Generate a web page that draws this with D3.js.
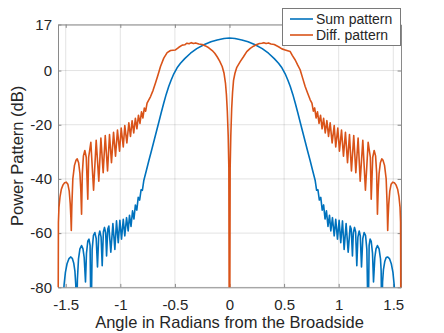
<!DOCTYPE html>
<html>
<head>
<meta charset="utf-8">
<script src="https://cdn.jsdelivr.net/npm/d3@7"></script>
<style>
body { margin: 0; background: #fff; }
text { font-family: "Liberation Sans", Arial, Helvetica, sans-serif; fill: #262626; }
</style>
</head>
<body>
<svg id="chart" width="444" height="333"></svg>
<script>
// values: [angle (rad), power (dB)]
var sumPattern = [
    [-1.5708, -110], [-1.525, -86], [-1.515, -79], [-1.503, -74.5], [-1.488, -71.3],
    [-1.47, -69.4], [-1.455, -68.8], [-1.44, -69.3], [-1.427, -71], [-1.416, -74],
    [-1.408, -79], [-1.401, -95], [-1.393, -77], [-1.383, -69.5], [-1.37, -65.8],
    [-1.355, -64.6], [-1.342, -65.8], [-1.331, -69], [-1.319, -78], [-1.31, -67.5],
    [-1.298, -63], [-1.287, -62.2], [-1.277, -64.5], [-1.268, -95], [-1.258, -66],
    [-1.246, -60.8], [-1.233, -59.8], [-1.221, -62], [-1.209, -72.5], [-1.198, -61],
    [-1.188, -59.2], [-1.176, -61.5], [-1.166, -72], [-1.155, -59.5], [-1.145, -57.9],
    [-1.134, -60], [-1.126, -68.4], [-1.115, -58.5], [-1.105, -57.4], [-1.087, -67],
    [-1.068, -56.5], [-1.05, -66], [-1.035, -55.5], [-1.019, -63.5], [-1.004, -55.3],
    [-0.989, -62.2], [-0.973, -54.9], [-0.959, -61], [-0.943, -54.3], [-0.928, -59.2],
    [-0.916, -53.4], [-0.902, -57.5], [-0.888, -51.8], [-0.875, -54.8], [-0.862, -49.6],
    [-0.849, -51.5], [-0.836, -46.8], [-0.823, -47.8], [-0.81, -44], [-0.798, -44.2],
    [-0.785, -40.6], [-0.762, -37], [-0.739, -33.3], [-0.716, -29.8], [-0.693, -26.2],
    [-0.67, -22.6], [-0.647, -19], [-0.625, -15.5], [-0.602, -12], [-0.58, -8.8],
    [-0.556, -5.8], [-0.535, -3.6], [-0.51, -1.2], [-0.48, 1], [-0.449, 2.7],
    [-0.41, 4.4], [-0.357, 6.4], [-0.3, 8.1], [-0.235, 9.5], [-0.17, 10.6],
    [-0.113, 11.3], [-0.05, 11.85], [0, 12],
    [0.05, 11.85], [0.113, 11.3], [0.17, 10.6], [0.235, 9.5], [0.3, 8.1],
    [0.357, 6.4], [0.41, 4.4], [0.449, 2.7], [0.48, 1], [0.51, -1.2],
    [0.535, -3.6], [0.556, -5.8], [0.58, -8.8], [0.602, -12], [0.625, -15.5],
    [0.647, -19], [0.67, -22.6], [0.693, -26.2], [0.716, -29.8], [0.739, -33.3],
    [0.762, -37], [0.785, -40.6], [0.798, -44.2], [0.81, -44], [0.823, -47.8],
    [0.836, -46.8], [0.849, -51.5], [0.862, -49.6], [0.875, -54.8], [0.888, -51.8],
    [0.902, -57.5], [0.916, -53.4], [0.928, -59.2], [0.943, -54.3], [0.959, -61],
    [0.973, -54.9], [0.989, -62.2], [1.004, -55.3], [1.019, -63.5], [1.035, -55.5],
    [1.05, -66], [1.068, -56.5], [1.087, -67], [1.105, -57.4], [1.115, -58.5],
    [1.126, -68.4], [1.134, -60], [1.145, -57.9], [1.155, -59.5], [1.166, -72],
    [1.176, -61.5], [1.188, -59.2], [1.198, -61], [1.209, -72.5], [1.221, -62],
    [1.233, -59.8], [1.246, -60.8], [1.258, -66], [1.27, -95], [1.279, -64.5],
    [1.288, -62.2], [1.298, -63], [1.31, -67.5], [1.319, -78], [1.331, -69],
    [1.342, -65.8], [1.355, -64.6], [1.37, -65.8], [1.383, -69.5], [1.389, -74],
    [1.395, -95], [1.402, -78], [1.41, -73.5], [1.422, -70.5], [1.435, -69],
    [1.448, -68.8], [1.465, -69.4], [1.482, -71.3], [1.497, -74.5], [1.508, -79],
    [1.518, -86], [1.5708, -110]
];

var diffPattern = [
    [-1.5708, -110], [-1.567, -56], [-1.562, -50.5], [-1.552, -46.5], [-1.54, -43.8],
    [-1.525, -42.2], [-1.51, -41.4], [-1.495, -41.2], [-1.48, -42], [-1.468, -44.5],
    [-1.459, -49], [-1.453, -54], [-1.449, -59], [-1.444, -50], [-1.435, -40],
    [-1.42, -35], [-1.405, -33], [-1.395, -32.6], [-1.382, -34], [-1.37, -38],
    [-1.362, -44], [-1.355, -53], [-1.348, -38], [-1.338, -31.5], [-1.325, -29.5],
    [-1.312, -32], [-1.298, -47.5], [-1.29, -32], [-1.27, -26.5], [-1.245, -44.2],
    [-1.221, -25.7], [-1.197, -40.8], [-1.178, -24.9], [-1.157, -37.7], [-1.138, -24],
    [-1.117, -37.1], [-1.099, -23.6], [-1.081, -34], [-1.062, -22.8], [-1.044, -31.6],
    [-1.026, -22], [-1.007, -29.8], [-0.992, -21.2], [-0.973, -28.2], [-0.959, -20.3],
    [-0.94, -26.7], [-0.922, -19.3], [-0.907, -24.3], [-0.892, -18.5], [-0.877, -23],
    [-0.862, -17.6], [-0.848, -21.5], [-0.834, -16.5], [-0.82, -19.5], [-0.806, -15.2],
    [-0.793, -17.5], [-0.78, -13.8], [-0.768, -15], [-0.755, -12], [-0.723, -9.6],
    [-0.7, -7.3], [-0.678, -4.6], [-0.655, -1.6], [-0.632, 1.5], [-0.602, 4.6],
    [-0.571, 6.6], [-0.54, 7.4], [-0.495, 7.6], [-0.464, 8.6], [-0.433, 9.4],
    [-0.41, 9.5], [-0.39, 10.1], [-0.37, 9.9], [-0.35, 10.3], [-0.33, 10],
    [-0.31, 10.2], [-0.281, 9.8], [-0.25, 9.6], [-0.22, 9.1], [-0.19, 8.4],
    [-0.158, 7.4], [-0.135, 6.4], [-0.113, 5.1], [-0.09, 3.5], [-0.067, 1.5],
    [-0.05, -1], [-0.037, -4.6], [-0.028, -9], [-0.02, -15], [-0.012, -24],
    [-0.006, -36], [0, -130], [0.006, -36], [0.012, -24], [0.02, -14],
    [0.028, -8], [0.037, -3.6], [0.05, -1], [0.067, 1.2], [0.098, 3.3],
    [0.128, 5.1], [0.158, 7], [0.19, 8.2], [0.22, 9], [0.25, 9.6],
    [0.275, 10], [0.296, 10.1], [0.315, 10.3], [0.335, 10], [0.357, 10.2],
    [0.38, 9.8], [0.41, 9.6], [0.449, 8.8], [0.48, 8], [0.51, 7.6],
    [0.556, 7], [0.575, 5.6], [0.602, 3.9], [0.625, 2], [0.647, 0.3],
    [0.67, -2.8], [0.693, -5.9], [0.716, -8.4], [0.739, -10.8], [0.755, -12],
    [0.768, -15], [0.78, -13.8], [0.793, -17.5], [0.806, -15.2], [0.82, -19.5],
    [0.834, -16.5], [0.848, -21.5], [0.862, -17.6], [0.877, -23], [0.892, -18.5],
    [0.907, -24.3], [0.922, -19.3], [0.94, -26.7], [0.959, -20.3], [0.973, -28.2],
    [0.992, -21.2], [1.007, -29.8], [1.026, -22], [1.044, -31.6], [1.062, -22.8],
    [1.081, -34], [1.099, -23.6], [1.117, -37.1], [1.138, -24], [1.157, -37.7],
    [1.178, -24.9], [1.197, -40.8], [1.221, -25.7], [1.245, -44.2], [1.27, -26.5],
    [1.29, -32], [1.298, -47.5], [1.312, -32], [1.325, -29.5], [1.338, -31.5],
    [1.348, -38], [1.355, -53], [1.362, -44], [1.37, -38], [1.382, -34],
    [1.395, -32.6], [1.405, -33], [1.42, -35], [1.435, -40], [1.444, -50],
    [1.449, -59], [1.453, -54], [1.459, -49], [1.468, -44.5], [1.48, -42],
    [1.495, -41.2], [1.51, -41.4], [1.525, -42.2], [1.54, -43.8], [1.552, -46.5],
    [1.562, -50.5], [1.567, -56], [1.5708, -110]
];

var xTicks = [-1.5, -1, -0.5, 0, 0.5, 1, 1.5];
var yTicks = [-80, -60, -40, -20, 0, 17];
var seriesNames = ["Sum pattern", "Diff. pattern"];
var seriesColors = ["#0072bd", "#d95319"];

var box = {left: 58, right: 401, top: 24.5, bottom: 287.3};
var svg = d3.select("#chart");

var x = d3.scaleLinear()
    .domain([-Math.PI / 2, Math.PI / 2])
    .range([box.left, box.right]);
var y = d3.scaleLinear()
    .domain([-80, 17])
    .range([box.bottom, box.top]);

// grid
var grid = svg.append("g")
    .attr("stroke", "#262626")
    .attr("stroke-opacity", 0.13)
    .attr("stroke-width", 1);
grid.selectAll(".gx")
    .data(xTicks)
    .enter()
    .append("line")
    .attr("x1", d => x(d))
    .attr("x2", d => x(d))
    .attr("y1", box.top)
    .attr("y2", box.bottom);
grid.selectAll(".gy")
    .data(yTicks)
    .enter()
    .append("line")
    .attr("x1", box.left)
    .attr("x2", box.right)
    .attr("y1", d => y(d))
    .attr("y2", d => y(d));

// axes, ticks point inward like matlab
var fmt = d => String(d);
var tickLen = 3.4;
var axB = svg.append("g")
    .attr("transform", "translate(0," + box.bottom + ")")
    .call(d3.axisBottom(x).tickValues(xTicks).tickFormat(fmt)
        .tickSizeInner(-tickLen).tickSizeOuter(0).tickPadding(12));
var axT = svg.append("g")
    .attr("transform", "translate(0," + box.top + ")")
    .call(d3.axisTop(x).tickValues(xTicks).tickFormat("")
        .tickSizeInner(-tickLen).tickSizeOuter(0));
var axL = svg.append("g")
    .attr("transform", "translate(" + box.left + ",0)")
    .call(d3.axisLeft(y).tickValues(yTicks).tickFormat(fmt)
        .tickSizeInner(-tickLen).tickSizeOuter(0).tickPadding(6));
var axR = svg.append("g")
    .attr("transform", "translate(" + box.right + ",0)")
    .call(d3.axisRight(y).tickValues(yTicks).tickFormat("")
        .tickSizeInner(-tickLen).tickSizeOuter(0));
[axB, axT, axL, axR].forEach(function(a) {
    a.selectAll("path").attr("stroke", "#8a8a8a").attr("stroke-width", 1);
    a.selectAll("line").attr("stroke", "#8a8a8a");
    a.selectAll("text")
        .attr("fill", "#262626")
        .style("font-size", "15px")
        .style("font-family", "'Liberation Sans', Arial, sans-serif");
});

// curves
svg.append("clipPath")
    .attr("id", "plotClip")
    .append("rect")
    .attr("x", box.left - 1)
    .attr("y", box.top)
    .attr("width", box.right - box.left + 2)
    .attr("height", box.bottom - box.top);

var line = d3.line()
    .x(d => x(d[0]))
    .y(d => y(d[1]));

var curves = svg.append("g").attr("clip-path", "url(#plotClip)");
[sumPattern, diffPattern].forEach(function(s, i) {
    curves.append("path")
        .datum(s)
        .attr("fill", "none")
        .attr("stroke", seriesColors[i])
        .attr("stroke-width", 1.6)
        .attr("stroke-linejoin", "round")
        .attr("d", line);
});

// labels
svg.append("text")
    .attr("x", (box.left + box.right) / 2)
    .attr("y", 328)
    .attr("text-anchor", "middle")
    .style("font-size", "16.5px")
    .text("Angle in Radians from the Broadside");
svg.append("text")
    .attr("transform", "translate(23," + ((box.top + box.bottom) / 2) + ") rotate(-90)")
    .attr("text-anchor", "middle")
    .style("font-size", "16.5px")
    .text("Power Pattern (dB)");

// legend
var lg = svg.append("g");
lg.append("rect")
    .attr("x", 282.5)
    .attr("y", 8.5)
    .attr("width", 118)
    .attr("height", 37)
    .attr("fill", "#fff")
    .attr("stroke", "#7a7a7a")
    .attr("stroke-width", 1);
seriesNames.forEach(function(name, i) {
    var ly = 19 + i * 16;
    lg.append("line")
        .attr("x1", 290)
        .attr("x2", 313)
        .attr("y1", ly)
        .attr("y2", ly)
        .attr("stroke", seriesColors[i])
        .attr("stroke-width", 1.6);
    lg.append("text")
        .attr("x", 316)
        .attr("y", ly + 5)
        .style("font-size", "14px")
        .text(name);
});
</script>
</body>
</html>
